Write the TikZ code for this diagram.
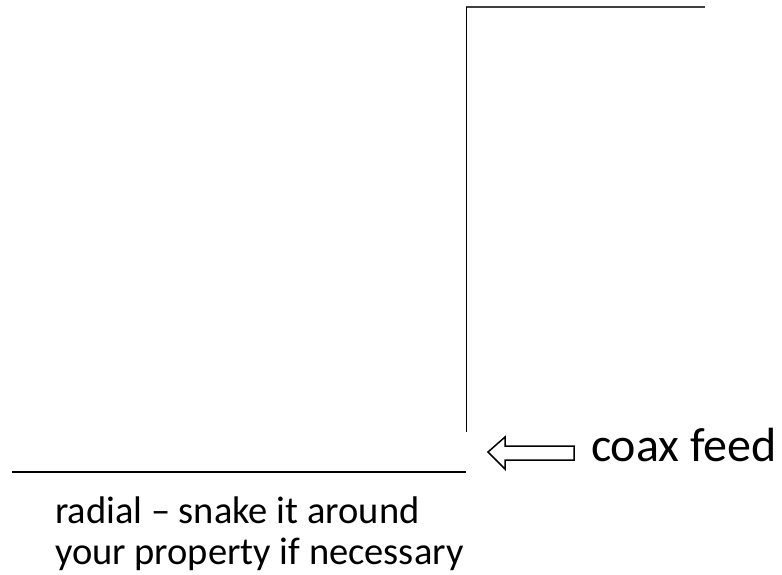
\documentclass[tikz,border=0pt]{standalone}
\usepackage{fontspec}
\setmainfont{Carlito}
\tikzset{
  wire/.style={line width=1.5pt, draw=black},
  hollowarrow/.style={draw=black, line width=1.5pt, fill=white, line join=miter},
  lbl/.style={inner sep=0pt, outer sep=0pt, anchor=base west}
}
\begin{document}
\begin{tikzpicture}[x=1pt,y=-1pt]
\useasboundingbox (0,0) rectangle (782,575);
% coordinates
\coordinate (topR) at (705,7);
\coordinate (topL) at (466,7);
\coordinate (vBot) at (466,432);
\coordinate (gL) at (12,472);
\coordinate (gR) at (466,472);
% antenna element
\draw[wire, draw=black!75, line width=2pt] (topR) -- (topL);
\draw[wire, line width=1pt] (topL) -- (vBot);
% radial
\draw[wire, line width=2pt] (gL) -- (gR);
% hollow arrow
\draw[hollowarrow] (488,452) -- (505,437) -- (505,446) -- (574,446) -- (574,460) -- (505,460) -- (505,469) -- cycle;
% labels
\node[lbl, font=\fontsize{48}{48}\selectfont] (coax) at (591,461) {coax feed};
\node[lbl, font=\fontsize{38.5}{38.5}\selectfont] (rad1) at (55,523) {radial – snake it around};
\node[lbl, font=\fontsize{38.5}{38.5}\selectfont] (rad2) at (55,564) {your property if necessary};
\end{tikzpicture}
\end{document}
